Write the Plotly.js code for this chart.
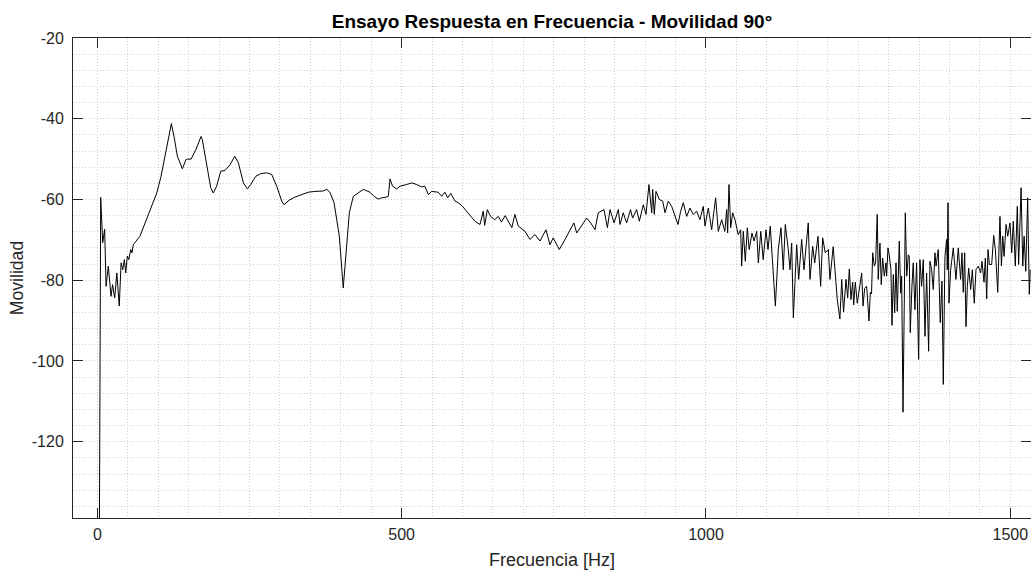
<!DOCTYPE html>
<html>
<head>
<meta charset="utf-8">
<script src="https://cdn.plot.ly/plotly-3.0.1.min.js"></script>
<style>
html,body{margin:0;padding:0;background:#fff;}
#chart{width:1031px;height:570px;}
</style>
</head>
<body>
<div id="chart"></div>
<script>
// Frequency [Hz]
const freq = [
3.3,5.5,8.8,12,14.3,18,22.5,25,28.5,32,36,39,41.7,44.4,46.6,49.3,51.6,54.9,57,59,
70,78.4,87.7,97.6,104.6,111,116.7,121.6,126,131.5,139.7,145.7,147.9,154,162,170.4,172.5,180.7,186.3,190.6,
196,202.7,209.8,218,225.7,231.7,240,246.5,252,260,268.5,278,286.5,294.7,303,306.7,315,324.8,335.8,346.6,
357.6,366,371,377,382,388.9,397.6,404,408.6,414,420.6,431.6,437,448,454.6,461.6,467,475.4,478,480.9,
485,491.8,497.3,508,516.5,524.7,533,538,544,549,560,565.8,571,575.6,580.6,587.6,593,600,606.9,613.4,
620.5,628.7,634,636.4,640.7,646,653,658.8,664,670,681,686,691.6,702.6,710.8,719,727.3,737,743.7,749,
759,768.4,779.4,783,787.6,798.5,804,810.6,817.6,823,832.4,838,842.3,849,856,858.7,864,869.6,876,879.4,
886,890.5,897,901.5,906.3,910.8,912.4,915,917.9,923.3,928.9,932.7,938,943.6,950.7,954,958.4,962.7,968.3,973.7,
979,984.7,990,995.5,998.4,1003.8,1009.3,1015.9,1020.2,1025.8,1031,1034,1035.6,1037.8,1040.6,1043.9,1047.6,1053,1057,1058.6,
1061.3,1064.6,1067.9,1071,1075.6,1078.9,1083.3,1086,1090,1094,1098.6,1101.9,1105.6,1109.6,1114,1118.8,1123.2,1127,1130.3,1135.2,
1138,1140.8,1143.5,1149,1152.3,1157.2,1161,1168,1170.9,1175.3,1178.6,1184,1188.4,1191.7,1196,1201,1203.7,1209,1215.7,1220,
1223,1226,1230,1232.8,1235.5,1238.2,1241,1242.7,1245.3,1248.6,1252,1255.8,1258,1260.7,1264,1267.8,1270,1272,1273.9,1276.5,
1278.7,1281.4,1283,1285.8,1288,1290.3,1293,1295.7,1296.8,1299,1301,1303.9,1305.6,1307.8,1310,1312.2,1314.3,1317.6,1319.9,1321.5,
1323.7,1325.3,1327.5,1329.8,1332.4,1334,1335.6,1338.4,1340.5,1343.3,1346,1349.4,1351.5,1354.3,1357,1359.8,1362.5,1365.8,1368,1370.7,
1373.4,1376.2,1378,1381.6,1384.9,1387.7,1389.9,1392.6,1395.4,1396.5,1397.6,1399.2,1402,1406.3,1410.7,1414.5,1418.4,1420.6,1422.7,1425,
1427.2,1429.4,1431.6,1434.9,1437.6,1440.8,1443.6,1447.4,1451.3,1453.5,1456.8,1459,1461.2,1463.4,1465.6,1469.4,1472.7,1475.5,1479.3,1483,
1485.4,1487.6,1489.8,1493,1495.8,1499.5,1502.3,1504.9,1508.2,1511.5,1513.7,1517.7,1520.5,1522.7,1525.4,1528.5,1531.2,1532.8
];
// Movilidad
const movilidad = [
-145,-59.5,-70.7,-67.4,-81.5,-76.5,-84,-81.1,-84.4,-78.2,-86.4,-75.7,-77.4,-74.9,-78.2,-74,-74.9,-72.4,-73.2,-71.2,
-69.1,-65.8,-62.5,-58.4,-54.3,-49.3,-44.4,-41.2,-44.4,-49.3,-52.4,-50.1,-50,-50,-47.6,-44.4,-45.2,-51.8,-57.1,-58.4,
-56.7,-53,-52.8,-51.4,-49.3,-50.9,-55.9,-57.4,-56.3,-54.3,-53.6,-53.4,-53.8,-56.7,-60.4,-61.3,-60.2,-59.4,-58.8,-58.2,
-58,-58,-57.9,-57.5,-58.2,-60.8,-69.1,-81.9,-73.2,-63.3,-59.2,-58,-57.5,-58.2,-59.2,-59.9,-59.6,-59.4,-59.2,-54.9,
-56.7,-57.4,-56.7,-56.3,-55.9,-56.3,-56.9,-56.7,-58.8,-58,-58.2,-59.2,-58.2,-59.6,-58.5,-60.4,-60.8,-61.7,-62.9,-64.2,
-65.4,-66.2,-62.9,-66.4,-62.5,-64.2,-65,-64.2,-65.6,-64,-67,-63.7,-66.6,-67.9,-69.9,-68.7,-70.3,-67.5,-71.2,-69.5,
-72.4,-69.9,-67,-65.8,-68.3,-65.8,-64.6,-65.8,-67.5,-63.3,-62.5,-67,-62.5,-65.8,-62.5,-66.2,-63.3,-65.8,-62.5,-64.6,
-62.5,-65.4,-61.3,-63.7,-56.3,-63.3,-57.5,-63.7,-58,-60,-60.4,-63.3,-60.4,-61.7,-64.6,-66.2,-62.9,-60.8,-64.2,-62.1,
-63.7,-62.9,-65,-61.7,-66.6,-62.1,-67.5,-59.6,-67.9,-65,-67.9,-62.5,-68.3,-56.3,-67,-63.3,-65,-68.7,-67.5,-76.5,
-67.9,-75.3,-67,-72.4,-68.3,-70.3,-67.9,-75.7,-67.9,-74.9,-67.5,-72.4,-66.6,-77.4,-86.4,-72.4,-67,-77.4,-66.2,-72.4,
-77.4,-70.8,-89.3,-71.2,-79.8,-69.9,-77.4,-65.8,-79.8,-71.6,-75.7,-69.1,-81.5,-69.5,-73.2,-72.4,-79.8,-71.7,-84.8,-89.6,
-79.8,-87.9,-79.8,-84.4,-77.2,-84.8,-80.5,-86.1,-80.5,-85.7,-82,-78.2,-86.4,-82,-81.5,-90.1,-83,-83.4,-73.2,-76.5,
-75.7,-63.7,-79.8,-70.8,-81.1,-74.5,-79,-75.7,-79,-72,-73.7,-77.4,-91.2,-78.6,-88.1,-75.7,-87.7,-70.3,-83.2,-79,
-112.7,-94,-63.3,-79,-73.7,-74.1,-93,-81.5,-75.7,-87.3,-75.7,-99.6,-74.9,-81.5,-74.9,-93.9,-78.2,-97.6,-75.3,-77.4,
-82.3,-73.2,-76.5,-72.4,-90.5,-80.2,-105.8,-74.1,-69.9,-77.4,-60.8,-85.7,-77.4,-72,-79.8,-72,-79.8,-73.2,-83,-73.2,
-91.5,-81.5,-77,-82.3,-77.4,-85.7,-77.4,-76.5,-78.2,-75.3,-80.5,-74.5,-84.6,-72.4,-76.1,-76.1,-68.9,-72.4,-83,-64.2,
-76.5,-69.1,-74.1,-66.2,-69.1,-65.8,-73.2,-65.4,-76.5,-61.7,-76.1,-57.1,-76.5,-69.1,-77.8,-59.6,-83.5,-77.4
];
const xTickVals = [0, 500, 1000, 1500];
const yTickVals = [-120, -100, -80, -60, -40, -20];

const axisColor = '#262626';
const gridColor = '#d0d0d0';
const gridDash = '1px,2px';

const trace = {
  x: freq,
  y: movilidad,
  type: 'scatter',
  mode: 'lines',
  line: {color: '#000000', width: 1},
  hoverinfo: 'skip'
};

const fontFam = 'Liberation Sans, Arial, Helvetica, sans-serif';

const layout = {
  width: 1031,
  height: 570,
  margin: {l: 73, r: 0, t: 38, b: 52, pad: 0},
  paper_bgcolor: '#ffffff',
  plot_bgcolor: '#ffffff',
  showlegend: false,
  font: {family: fontFam, size: 16, color: axisColor},
  title: {
    text: '<b>Ensayo Respuesta en Frecuencia - Movilidad 90°</b>',
    font: {family: fontFam, size: 19, color: '#000000'},
    x: 0.5, xref: 'paper', xanchor: 'center',
    y: 0.962, yref: 'container', yanchor: 'middle'
  },
  xaxis: {
    range: [-40, 1534],
    tickmode: 'array',
    tickvals: xTickVals,
    ticktext: xTickVals.map(String),
    ticks: 'inside',
    ticklen: 10,
    tickwidth: 1,
    tickcolor: axisColor,
    showline: true,
    linecolor: axisColor,
    linewidth: 1,
    mirror: 'ticks',
    showgrid: true,
    gridcolor: gridColor,
    griddash: gridDash,
    gridwidth: 1,
    minor: {dtick: 50, tick0: 0, showgrid: true, gridcolor: gridColor, griddash: gridDash, gridwidth: 1, ticks: ''},
    zeroline: false,
    tickfont: {size: 16, color: axisColor},
    ticklabelstandoff: 2,
    title: {text: 'Frecuencia [Hz]', font: {size: 18, color: axisColor}, standoff: 11}
  },
  yaxis: {
    range: [-138.9, -20],
    tickmode: 'array',
    tickvals: yTickVals,
    ticktext: yTickVals.map(String),
    ticks: 'inside',
    ticklen: 10,
    tickwidth: 1,
    tickcolor: axisColor,
    showline: true,
    linecolor: axisColor,
    linewidth: 1,
    mirror: 'ticks',
    showgrid: true,
    gridcolor: gridColor,
    griddash: gridDash,
    gridwidth: 1,
    minor: {dtick: 4, tick0: 0, showgrid: true, gridcolor: gridColor, griddash: gridDash, gridwidth: 1, ticks: ''},
    zeroline: false,
    tickfont: {size: 16, color: axisColor},
    ticklabelstandoff: 5,
    title: {text: 'Movilidad', font: {size: 17.6, color: axisColor}, standoff: 3}
  }
};

Plotly.newPlot('chart', [trace], layout, {staticPlot: true, displayModeBar: false});
</script>
</body>
</html>
